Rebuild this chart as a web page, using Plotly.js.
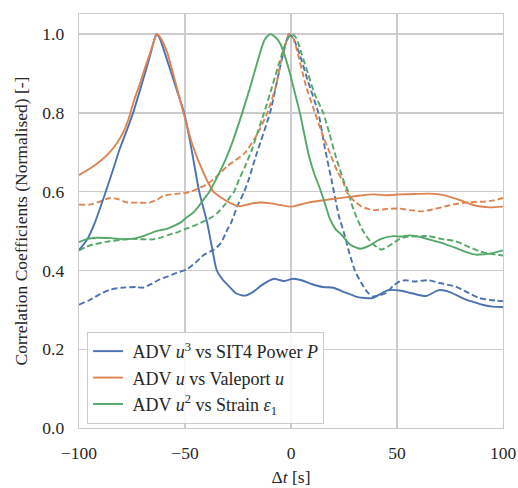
<!DOCTYPE html>
<html>
<head>
<meta charset="utf-8">
<script src="https://cdn.plot.ly/plotly-3.0.1.min.js"></script>
<style>html,body{margin:0;padding:0;background:#fff;}#chart{width:518px;height:488px;}</style>
</head>
<body>
<div id="chart"></div>
<script>
// ---- data ----
const seriesNames = ["\u00a0ADV <i>u</i><sup>3</sup> vs SIT4 Power <i>P</i>",
                     "\u00a0ADV <i>u</i> vs Valeport <i>u</i>",
                     "\u00a0ADV <i>u</i><sup>2</sup> vs Strain <i>ε</i><sub>1</sub>"];

// blue, solid
const blueSolidX = [-100,-96,-92.6,-88,-84,-81,-77.5,-74.5,-70,-66.5,-64.5,-63.5,-62,-60,-57,-54,-50.4,-47,-43.3,-39.5,-37,-35,-32,-30,-26,-22,-18,-14,-10,-8,-5,-3.3,0,1.4,5,10,15,20,25,31,35,38.6,42,46,51.3,57,63.6,69.8,75,80.8,86,90.3,95,100];
const blueSolidY = [0.452,0.48,0.52,0.59,0.655,0.705,0.755,0.8,0.88,0.945,0.985,1.0,0.99,0.96,0.91,0.86,0.80,0.71,0.60,0.52,0.45,0.40,0.375,0.364,0.342,0.336,0.345,0.362,0.375,0.379,0.375,0.373,0.378,0.379,0.375,0.365,0.358,0.356,0.345,0.333,0.33,0.33,0.34,0.35,0.349,0.342,0.335,0.35,0.345,0.33,0.32,0.313,0.308,0.307];

// blue, dashed
const blueDashX = [-100,-95,-90,-85.5,-80,-73,-70,-66,-62,-58,-54,-49.4,-45,-41,-36.3,-33,-30,-28.4,-25.3,-22.1,-20,-16,-9.9,-5,-2.5,-1,1,4,8,12.9,16,19.5,22.5,25,27.5,30.1,33,36,38.8,42,45,48,51.3,54,58,65,70,77.7,83,88.7,94,100];
const blueDashY = [0.313,0.325,0.34,0.351,0.356,0.358,0.356,0.365,0.377,0.385,0.394,0.402,0.42,0.44,0.453,0.47,0.504,0.519,0.563,0.6,0.63,0.7,0.8,0.92,0.975,1.0,0.99,0.95,0.88,0.8,0.71,0.62,0.54,0.495,0.445,0.4,0.37,0.345,0.334,0.337,0.343,0.36,0.372,0.375,0.372,0.375,0.368,0.359,0.345,0.33,0.325,0.322];

// orange, solid
const orangeSolidX = [-100,-95,-89.9,-86,-82,-79,-76.6,-74,-71.1,-68.5,-66.4,-64.5,-63.2,-61.5,-58.4,-54.5,-50.7,-46.8,-41.3,-36.6,-33,-30.3,-27,-24,-20,-16,-10,-5,0,3,8,15.2,22,31,38.7,45,51.3,58,65,70,73,80,85,88.7,94,100];
const orangeSolidY = [0.642,0.658,0.678,0.697,0.724,0.752,0.785,0.832,0.877,0.92,0.953,0.985,1.0,0.99,0.953,0.877,0.80,0.724,0.648,0.6,0.585,0.576,0.567,0.563,0.568,0.572,0.571,0.566,0.562,0.565,0.572,0.578,0.583,0.589,0.593,0.591,0.593,0.594,0.595,0.593,0.59,0.578,0.568,0.563,0.56,0.562];

// orange, dashed
const orangeDashX = [-100,-95,-90,-85.5,-81,-77.7,-72,-66.7,-63,-60.4,-55,-49.4,-44,-40,-36.3,-30,-22,-16,-11.2,-7,-4.9,-2.5,-1,1,3,7,11.3,14.5,18.4,22,24.6,26.2,30,33.3,37.2,40.3,45,51.3,56,62,67,73,79,84,91.7,96,100];
const orangeDashY = [0.567,0.567,0.575,0.584,0.58,0.573,0.572,0.572,0.58,0.589,0.594,0.597,0.607,0.618,0.632,0.665,0.697,0.745,0.8,0.87,0.926,0.975,1.0,0.99,0.955,0.87,0.8,0.75,0.697,0.65,0.625,0.6,0.575,0.562,0.555,0.553,0.556,0.557,0.553,0.55,0.555,0.563,0.57,0.573,0.575,0.578,0.584];

// green, solid
const greenSolidX = [-100,-96,-91.8,-85,-77.7,-73,-69.8,-63.5,-59,-55.7,-52,-49.4,-46.5,-44.1,-41.5,-38.5,-35,-31,-28,-23,-19,-15,-12.5,-9.9,-7,-5,-3.3,-1,1.4,4.2,8.2,11,13.5,16,18.4,21,23.9,28,32.5,37,41.9,48.2,52,55.7,60,65,71,77.7,82,87.1,91,95,100];
const greenSolidY = [0.472,0.48,0.483,0.482,0.479,0.482,0.487,0.5,0.505,0.512,0.522,0.534,0.545,0.559,0.578,0.6,0.635,0.68,0.72,0.8,0.87,0.945,0.985,1.0,0.99,0.975,0.951,0.91,0.86,0.8,0.697,0.645,0.61,0.57,0.53,0.505,0.49,0.465,0.455,0.463,0.479,0.487,0.486,0.489,0.486,0.479,0.47,0.457,0.448,0.44,0.441,0.444,0.451];

// green, dashed
const greenDashX = [-100,-96.5,-93.4,-85.5,-80,-74.5,-70,-65.1,-61,-57.3,-53,-49.4,-45,-41,-37.5,-34.7,-31.5,-28.4,-26.8,-24.5,-22,-18.2,-15.5,-12.7,-9,-5.6,-3,-1,0.5,2.5,5,8,11,15.2,18,20.7,24.6,27,28.5,30.9,34,38,42.7,47,51.3,54,60,65,71,77.7,83,88.7,94,100];
const greenDashY = [0.451,0.46,0.466,0.474,0.478,0.48,0.479,0.479,0.484,0.491,0.498,0.506,0.515,0.525,0.535,0.546,0.565,0.589,0.6,0.631,0.66,0.71,0.755,0.8,0.865,0.926,0.97,0.993,1.0,0.99,0.95,0.9,0.85,0.8,0.75,0.697,0.631,0.6,0.57,0.535,0.5,0.47,0.453,0.465,0.48,0.485,0.487,0.487,0.48,0.474,0.462,0.449,0.442,0.438];

const xTickVals = [-100,-50,0,50,100];
const yTickVals = [0.0,0.2,0.4,0.6,0.8,1.0];

// ---- styles ----
const BLUE = '#4c72b0', ORANGE = '#dd8452', GREEN = '#55a868';
const LW = 1.9;
const DASH = '6px,3px';
const FONT = 'Liberation Serif';
const FS = 17.5;

function tr(x, y, color, dash, name, show) {
  return {x: x, y: y, type: 'scatter', mode: 'lines', name: name, showlegend: show,
          line: {color: color, width: LW, dash: dash, shape: 'spline', smoothing: 0.6}, hoverinfo: 'skip'};
}

const data = [
  tr(blueDashX, blueDashY, BLUE, DASH, '', false),
  tr(orangeDashX, orangeDashY, ORANGE, DASH, '', false),
  tr(greenDashX, greenDashY, GREEN, DASH, '', false),
  tr(blueSolidX, blueSolidY, BLUE, 'solid', seriesNames[0], true),
  tr(orangeSolidX, orangeSolidY, ORANGE, 'solid', seriesNames[1], true),
  tr(greenSolidX, greenSolidY, GREEN, 'solid', seriesNames[2], true)
];

const axisCommon = {
  showgrid: true, gridcolor: '#cccccc', gridwidth: 1.3,
  showline: true, linecolor: '#cccccc', linewidth: 1.3, mirror: true,
  zeroline: false,
  ticks: 'outside', ticklen: 8, tickcolor: 'rgba(0,0,0,0)',
  tickfont: {family: FONT, size: FS, color: '#262626'}
};

const layout = {
  width: 518, height: 488,
  margin: {l: 79, r: 15, t: 14, b: 60},
  paper_bgcolor: '#ffffff', plot_bgcolor: '#ffffff',
  font: {family: FONT, size: FS, color: '#262626'},
  xaxis: Object.assign({}, axisCommon, {
    range: [-100, 100], tickvals: xTickVals, ticklen: 9,
    title: {text: 'Δ<i>t</i> [s]', font: {family: FONT, size: FS, color: '#262626'}, standoff: 8}
  }),
  yaxis: Object.assign({}, axisCommon, {
    range: [0, 1.051], tickvals: yTickVals, tickformat: '.1f', ticklen: 10,
    title: {text: 'Correlation Coefficients (Normalised) [-]', font: {family: FONT, size: FS, color: '#262626'}, standoff: 10}
  }),
  legend: {
    x: 0.019, y: 0.232, xanchor: 'left', yanchor: 'top',
    bgcolor: 'rgba(255,255,255,0.85)', bordercolor: '#cccccc', borderwidth: 1,
    font: {family: FONT, size: 18, color: '#262626'},
    itemwidth: 30, tracegroupgap: 0
  },
  showlegend: true
};

Plotly.newPlot('chart', data, layout, {staticPlot: true, displayModeBar: false});
</script>
</body>
</html>
